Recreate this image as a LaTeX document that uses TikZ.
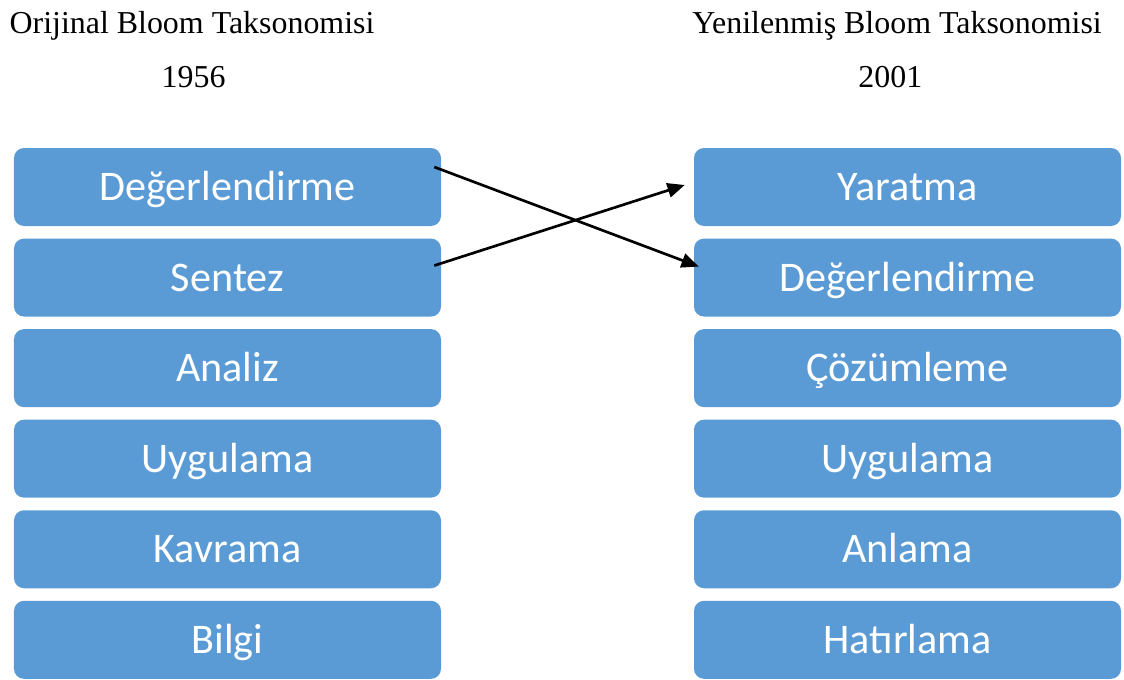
\documentclass[tikz,border=0pt]{standalone}
\usepackage{fontspec}
\setmainfont{Liberation Serif}
\newfontfamily\boxfont{Carlito}
\usetikzlibrary{positioning,calc,arrows.meta}

\definecolor{kutumavi}{HTML}{5B9BD5}

\tikzset{
	kutu/.style={fill=kutumavi, rounded corners=0.25cm, minimum width=10.675cm, minimum height=1.95cm, inner sep=0pt, text height=19.3pt, text depth=0pt, text=white, font=\boxfont\fontsize{30}{36}\selectfont},
	baslik/.style={anchor=base, font=\fontsize{22.7}{27}\selectfont},
	ok/.style={-{Triangle[length=0.43cm, width=0.36cm]}, line width=1.9pt}
}

\begin{document}
\begin{tikzpicture}[node distance=0.3cm]
		\useasboundingbox (0,0) rectangle (28.1,-17);

		\node[baslik] (eskibaslik) at (4.8,-0.825) {Orijinal Bloom Taksonomisi};
		\node[baslik] (eskiyil) at (4.84,-2.175) {1956};
		\node[baslik] (yenibaslik) at (22.425,-0.825) {Yenilenmiş Bloom Taksonomisi};
		\node[baslik] (yeniyil) at (22.26,-2.175) {2001};

		% 1956
		\node[kutu] (l1) at (5.6875,-4.675) {Değerlendirme};
		\node[kutu, below=of l1] (l2) {Sentez};
		\node[kutu, below=of l2] (l3) {Analiz};
		\node[kutu, below=of l3] (l4) {Uygulama};
		\node[kutu, below=of l4] (l5) {Kavrama};
		\node[kutu, below=of l5] (l6) {Bilgi};

		% 2001
		\node[kutu] (r1) at (22.6875,-4.675) {Yaratma};
		\node[kutu, below=of r1] (r2) {Değerlendirme};
		\node[kutu, below=of r2] (r3) {Çözümleme};
		\node[kutu, below=of r3] (r4) {Uygulama};
		\node[kutu, below=of r4] (r5) {Anlama};
		\node[kutu, below=of r5] (r6) {Hatırlama};

		\draw[ok] ($(l1.east)+(-0.175,0.5)$) -- ($(r2.west)+(0.125,0.275)$);
		\draw[ok] ($(l2.east)+(-0.175,0.3)$) -- ($(r1.west)+(-0.225,0.05)$);

	\end{tikzpicture}
\end{document}
